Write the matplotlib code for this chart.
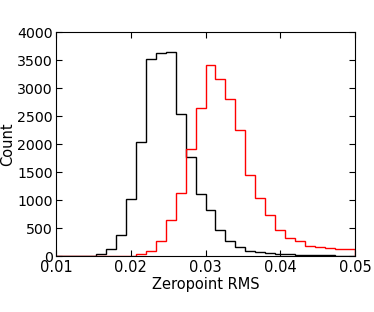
import numpy as np
import matplotlib
matplotlib.use("Agg")
import matplotlib.pyplot as plt

# histogram of zeropoint RMS, 30 bins between 0.01 and 0.05
bin_lo = 0.01
bin_hi = 0.05
n_bins = 30

black_counts = [0, 0, 0, 5, 30, 120, 380, 1015, 2040, 3515,
                3630, 3645, 2540, 1775, 1105, 830, 460, 275, 170, 98,
                77, 58, 45, 30, 25, 20, 12, 20, 10, 10]
red_counts = [0, 0, 0, 0, 0, 0, 5, 10, 36, 95,
              268, 637, 1119, 1911, 2649, 3405, 3155, 2815, 2256, 1446,
              1042, 738, 464, 327, 268, 190, 167, 143, 119, 119]

x_ticks = [0.01, 0.02, 0.03, 0.04, 0.05]
y_ticks = list(range(0, 4001, 500))

edges = np.linspace(bin_lo, bin_hi, n_bins + 1)

fig = plt.figure(figsize=(3.74, 3.12), dpi=100)
ax = fig.add_axes([0.150, 0.179, 0.799, 0.718])

ax.stairs(black_counts, edges, color="k", lw=1.0)
ax.stairs(red_counts, edges, color="r", lw=1.0)

ax.set_xlim(bin_lo, bin_hi)
ax.set_ylim(0, 4000)
ax.set_xticks(x_ticks)
ax.set_xticklabels([f"{t:.2f}" for t in x_ticks])
ax.set_yticks(y_ticks)
ax.tick_params(direction="in", top=True, right=True, length=4, labelsize=10.5, pad=2.5)
ax.tick_params(axis="y", labelsize=10.2)
ax.set_xlabel("Zeropoint RMS", fontsize=10.5, labelpad=2)
ax.set_ylabel("Count", fontsize=10.5)
ax.yaxis.set_label_coords(-0.136, 0.5)

fig.savefig("out.png", dpi=100, facecolor="white")
plt.close(fig)
